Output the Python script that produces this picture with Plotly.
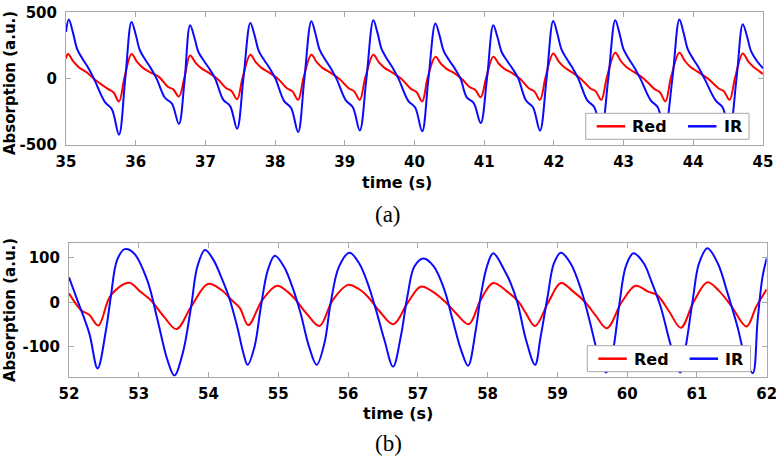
import plotly.graph_objects as go

# ---------------- data ----------------
top_ir_t = [35.00, 35.04, 35.10, 35.16, 35.24, 35.31, 35.40, 35.56, 35.66, 35.76, 35.85,
            35.94, 36.00, 36.06, 36.14, 36.21, 36.30, 36.42, 36.52, 36.62, 36.70,
            36.78, 36.84, 36.90, 36.98, 37.05, 37.14, 37.255, 37.355, 37.455, 37.545,
            37.645, 37.705, 37.765, 37.845, 37.915, 38.005, 38.13, 38.23, 38.33, 38.42,
            38.52, 38.58, 38.64, 38.72, 38.79, 38.88, 39.015, 39.115, 39.215, 39.31,
            39.41, 39.47, 39.53, 39.61, 39.68, 39.77, 39.91, 40.01, 40.11, 40.20,
            40.30, 40.36, 40.42, 40.50, 40.57, 40.66, 40.75, 40.85, 40.95, 41.04,
            41.13, 41.19, 41.25, 41.33, 41.40, 41.49, 41.60, 41.70, 41.80, 41.895,
            41.99, 42.05, 42.11, 42.19, 42.26, 42.35, 42.48, 42.58, 42.68, 42.78,
            42.88, 42.94, 43.00, 43.08, 43.15, 43.24, 43.39, 43.49, 43.59, 43.70,
            43.80, 43.86, 43.92, 44.00, 44.07, 44.16, 44.32, 44.42, 44.52, 44.62,
            44.71, 44.77, 44.83, 44.91, 45.00]
top_ir_v = [352, 445, 347, 223, 147, 89, 0, -177, -232, -422, 0,
            427, 333, 214, 141, 85, 0, -144, -188, -342, -20,
            402, 314, 201, 133, 80, 0, -158, -207, -377, 0,
            420, 328, 210, 139, 84, 0, -169, -221, -402, 0,
            432, 337, 216, 143, 86, 0, -164, -215, -390, 0,
            440, 343, 220, 145, 88, 0, -167, -218, -397, 0,
            415, 324, 208, 137, 83, 0, -141, -184, -335, 0,
            402, 314, 201, 133, 80, 0, -165, -216, -392, 0,
            435, 339, 218, 144, 87, 0, -164, -215, -390, 0,
            440, 343, 220, 145, 88, 0, -164, -215, -390, 0,
            445, 347, 223, 147, 89, 0, -164, -215, -390, 0,
            410, 320, 205, 135, 78]

top_red_t = [35.00, 35.03, 35.11, 35.19, 35.29, 35.445, 35.60, 35.68, 35.76, 35.84,
             35.94, 36.02, 36.10, 36.20, 36.33, 36.46, 36.54, 36.62, 36.70,
             36.78, 36.86, 36.94, 37.04, 37.17, 37.295, 37.375, 37.455, 37.535,
             37.645, 37.725, 37.805, 37.905, 38.04, 38.17, 38.25, 38.33, 38.41,
             38.52, 38.60, 38.68, 38.78, 38.92, 39.055, 39.135, 39.215, 39.295,
             39.41, 39.49, 39.57, 39.67, 39.81, 39.95, 40.03, 40.11, 40.19,
             40.30, 40.38, 40.46, 40.56, 40.675, 40.79, 40.87, 40.95, 41.03,
             41.13, 41.21, 41.29, 41.39, 41.515, 41.64, 41.72, 41.80, 41.88,
             41.99, 42.07, 42.15, 42.25, 42.385, 42.52, 42.60, 42.68, 42.76,
             42.88, 42.96, 43.04, 43.14, 43.29, 43.44, 43.52, 43.60, 43.68,
             43.80, 43.88, 43.96, 44.06, 44.21, 44.36, 44.44, 44.52, 44.60,
             44.71, 44.79, 44.87, 44.95, 45.00]
top_red_v = [152, 185, 126, 83, 50, -20, -77, -103, -172, 10,
             185, 126, 83, 50, 15, -61, -81, -135, 10,
             175, 119, 79, 47, 0, -70, -93, -155, 10,
             180, 122, 81, 49, 0, -72, -96, -160, 10,
             180, 122, 81, 49, 0, -72, -96, -160, 10,
             180, 122, 81, 49, 0, -77, -103, -172, 10,
             165, 112, 74, 45, 0, -63, -84, -140, 10,
             165, 112, 74, 45, 0, -72, -96, -160, 10,
             190, 129, 86, 51, 0, -72, -96, -160, 10,
             195, 133, 88, 53, 0, -77, -103, -172, 10,
             195, 133, 88, 53, 0, -72, -96, -160, 10,
             190, 129, 86, 55, 35]

bot_ir_t = [52.00, 52.12, 52.29, 52.41, 52.53, 52.60, 52.69, 52.80,
            52.93, 53.12, 53.27, 53.41, 53.51, 53.63, 53.75, 53.84, 53.95,
            54.07, 54.17, 54.29, 54.41, 54.50, 54.56, 54.66, 54.75, 54.85, 54.95,
            55.08, 55.20, 55.32, 55.44, 55.55, 55.66, 55.75, 55.87, 56.02,
            56.16, 56.28, 56.40, 56.52, 56.645, 56.755, 56.85, 56.95, 57.08,
            57.23, 57.38, 57.50, 57.62, 57.72, 57.83, 57.90, 57.99, 58.08,
            58.24, 58.33, 58.43, 58.55, 58.68, 58.76, 58.86, 58.95, 59.05,
            59.19, 59.34, 59.46, 59.58, 59.70, 59.79, 59.89, 59.98, 60.09,
            60.24, 60.34, 60.48, 60.63, 60.76, 60.84, 60.94, 61.03, 61.15,
            61.30, 61.44, 61.58, 61.70, 61.80, 61.87, 61.94, 62.00]
bot_ir_v = [56, 5, -69, -148, -62, 13, 95, 119,
            110, 50, -40, -129, -164, -114, -10, 80, 117,
            95, 61, 13, -54, -114, -140, -99, -10, 72, 104,
            80, 35, -25, -99, -140, -92, -2, 80, 111,
            87, 43, -17, -84, -144, -77, 13, 80, 98,
            80, 28, -40, -107, -142, -62, 13, 80, 110,
            72, 43, -2, -84, -140, -77, 13, 87, 111,
            87, 28, -40, -114, -157, -114, -2, 80, 110,
            87, 50, -10, -99, -157, -99, 5, 87, 121,
            87, 20, -54, -129, -159, -40, 57, 98]

bot_red_t = [52.00, 52.17, 52.29, 52.42, 52.60, 52.86, 53.02, 53.17, 53.36, 53.54, 53.75, 53.99,
             54.18, 54.33, 54.45, 54.57, 54.77, 54.98, 55.13, 55.23, 55.42, 55.59, 55.78, 56.00,
             56.14, 56.28, 56.45, 56.65, 56.85, 57.04, 57.20, 57.40, 57.55, 57.73, 57.90, 58.08,
             58.28, 58.45, 58.55, 58.68, 58.87, 59.05, 59.22, 59.40, 59.55, 59.71, 59.92, 60.12,
             60.30, 60.43, 60.60, 60.77, 60.95, 61.15, 61.32, 61.50, 61.71, 61.85, 62.00]
bot_red_v = [20, -17, -28, -52, 16, 44, 24, 5, -32, -60, -10, 41,
             28, 5, -13, -51, 5, 37, 24, 9, -28, -53, 5, 39,
             31, 13, -20, -49, -2, 35, 25, 0, -25, -49, 5, 43,
             24, 0, -25, -53, 0, 43, 25, 0, -30, -58, 0, 37,
             24, 16, -20, -57, 0, 45, 25, -10, -54, -10, 29]

top_xticks = [35, 36, 37, 38, 39, 40, 41, 42, 43, 44, 45]
bot_xticks = [52, 53, 54, 55, 56, 57, 58, 59, 60, 61, 62]
top_yticks = [-500, 0, 500]
top_ytext = ["-500", "0", "500"]
bot_yticks = [-100, 0, 100]
bot_ytext = ["-100", "0", "100"]
series_names = ["Red", "IR"]

# ---------------- figure ----------------
RED = "#ff0000"
BLUE = "#0a0aff"
FONT = "DejaVu Sans"
GREY = "#a8a8a8"
tickfont = dict(family=FONT, size=15, color="black", weight="bold")

W, H = 776, 461
def px(x):
    return x / W
def py(y):
    return 1 - y / H

fig = go.Figure()

def line(color):
    return dict(color=color, width=2, shape="spline", smoothing=1)

fig.add_trace(go.Scatter(x=top_red_t, y=top_red_v, mode="lines", name=series_names[0],
                         line=line(RED), xaxis="x", yaxis="y"))
fig.add_trace(go.Scatter(x=top_ir_t, y=top_ir_v, mode="lines", name=series_names[1],
                         line=line(BLUE), xaxis="x", yaxis="y"))
fig.add_trace(go.Scatter(x=bot_red_t, y=bot_red_v, mode="lines", name=series_names[0],
                         line=line(RED), xaxis="x2", yaxis="y2"))
fig.add_trace(go.Scatter(x=bot_ir_t, y=bot_ir_v, mode="lines", name=series_names[1],
                         line=line(BLUE), xaxis="x2", yaxis="y2"))

axis_common = dict(showgrid=False, zeroline=False, showline=True, linecolor=GREY,
                   linewidth=1, mirror="ticks", ticks="inside", ticklen=5,
                   tickcolor=GREY, tickfont=tickfont, automargin=False,
                   ticklabeloverflow="allow")

fig.update_layout(
    width=W, height=H,
    margin=dict(l=0, r=0, t=0, b=0, autoexpand=False),
    paper_bgcolor="white", plot_bgcolor="white",
    showlegend=False,
    xaxis=dict(domain=[px(66), px(763)], range=[35, 45], anchor="y",
               tickvals=top_xticks, ticklabelstandoff=3, **axis_common),
    yaxis=dict(domain=[py(145), py(12.3)], range=[-500, 500], anchor="x",
               tickvals=top_yticks, ticktext=top_ytext, ticklabelstandoff=5, **axis_common),
    xaxis2=dict(domain=[px(69), px(766.7)], range=[52, 62], anchor="y2",
                tickvals=bot_xticks, ticklabelstandoff=3, **axis_common),
    yaxis2=dict(domain=[py(376.7), py(243.3)], range=[-166.6, 132.1], anchor="x2",
                tickvals=bot_yticks, ticktext=bot_ytext, ticklabelstandoff=5, **axis_common),
)

# legend boxes (drawn above the lines, like the original)
shapes = []
annotations = []
leg_font = dict(family=FONT, size=16, color="black", weight="bold")
for (bx0, by0) in [(585.7, 113.3), (587.3, 345.7)]:
    bx1, by1 = bx0 + 163.3, by0 + 26
    yc = (by0 + by1) / 2
    shapes.append(dict(type="rect", xref="paper", yref="paper", layer="above",
                       x0=px(bx0), x1=px(bx1), y0=py(by1), y1=py(by0),
                       fillcolor="white", line=dict(color=GREY, width=1)))
    for dx, color, name in [(11, RED, series_names[0]), (102.3, BLUE, series_names[1])]:
        shapes.append(dict(type="line", xref="paper", yref="paper", layer="above",
                           x0=px(bx0 + dx), x1=px(bx0 + dx + 28.5), y0=py(yc), y1=py(yc),
                           line=dict(color=color, width=2.5)))
        annotations.append(dict(text=name, x=px(bx0 + dx + 33.5), y=py(yc + 0.5),
                                xanchor="left", yanchor="middle", font=leg_font))

lab_font = dict(family=FONT, size=15, color="black", weight="bold")
serif_font = dict(family="Liberation Serif", size=23, color="black")
annotations += [
    dict(text="Absorption (a.u.)", x=px(10), y=py(83), textangle=-90, font=lab_font,
         xanchor="center", yanchor="middle"),
    dict(text="Absorption (a.u.)", x=px(10), y=py(310), textangle=-90, font=lab_font,
         xanchor="center", yanchor="middle"),
    dict(text="time (s)", x=px(397), y=py(182.5), font=dict(lab_font, size=16),
         xanchor="center", yanchor="middle"),
    dict(text="time (s)", x=px(398), y=py(413), font=dict(lab_font, size=16),
         xanchor="center", yanchor="middle"),
    dict(text="(a)", x=px(388), y=py(214), font=serif_font,
         xanchor="center", yanchor="middle"),
    dict(text="(b)", x=px(388), y=py(443), font=serif_font,
         xanchor="center", yanchor="middle"),
]
for a in annotations:
    fig.add_annotation(xref="paper", yref="paper", showarrow=False, **a)
fig.update_layout(shapes=shapes)

fig.write_html("out.html", config={"displayModeBar": False},
               post_script="document.body.style.margin='0px';")
